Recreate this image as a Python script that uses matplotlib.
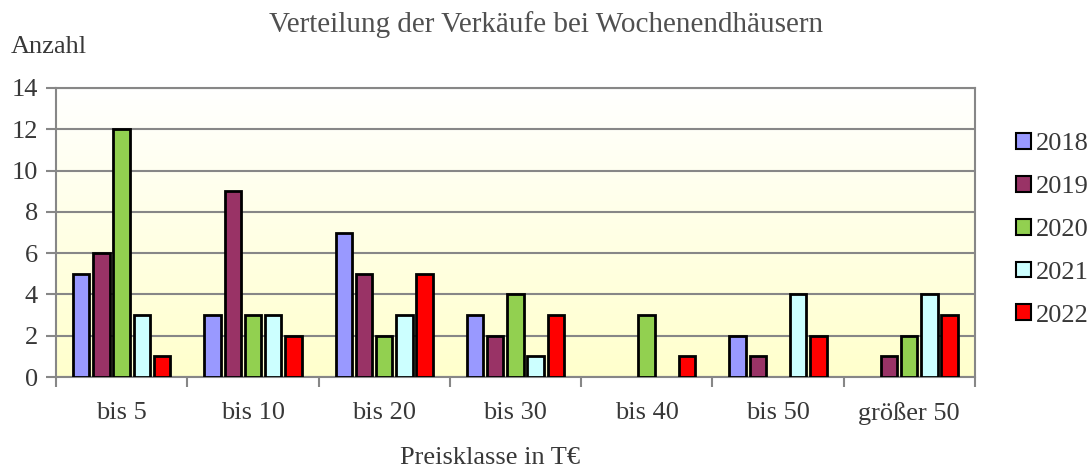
import numpy as np
import matplotlib.pyplot as plt
from matplotlib.patches import Patch

plt.rcParams['font.family'] = ['Liberation Serif', 'DejaVu Serif']

# Verkäufe je Preisklasse und Jahr
kategorien = ['bis 5', 'bis 10', 'bis 20', 'bis 30', 'bis 40', 'bis 50', 'größer 50']
jahre = ['2018', '2019', '2020', '2021', '2022']
v2018 = [5, 3, 7, 3, 0, 2, 0]
v2019 = [6, 9, 5, 2, 0, 1, 1]
v2020 = [12, 3, 2, 4, 3, 0, 2]
v2021 = [3, 3, 3, 1, 0, 4, 4]
v2022 = [1, 2, 5, 3, 1, 2, 3]
farben = ['#9999ff', '#993366', '#92d050', '#ccffff', '#ff0000']

werte = [v2018, v2019, v2020, v2021, v2022]
gitter = '#878787'
schrift = '#383838'

fig = plt.figure(figsize=(10.88, 4.68), dpi=100)
ax = fig.add_axes([0.0515, 0.1944, 0.8445, 0.6176])

# Hintergrund mit Verlauf von Weiß nach Hellgelb
verlauf = np.linspace(0, 1, 256)
bg = np.ones((256, 1, 3))
bg[:, 0, 2] = 1 - 0.2 * verlauf
ax.imshow(bg, extent=(-0.5, len(kategorien) - 0.5, 0, 14), aspect='auto',
          origin='upper', zorder=0)

x = np.arange(len(kategorien))
breite = 0.125
schritt = 0.154
for i, (w, f) in enumerate(zip(werte, farben)):
    pos = x + (i - 2) * schritt
    hoehen = np.array(w, dtype=float)
    mask = hoehen > 0
    ax.bar(pos[mask], hoehen[mask], width=breite, color=f, edgecolor='black',
           linewidth=2, zorder=3)

ax.set_xlim(-0.5, len(kategorien) - 0.5)
ax.set_ylim(0, 14)
ax.set_yticks(range(0, 15, 2))
ax.yaxis.grid(True, color=gitter, linewidth=1.5, zorder=1)
ax.set_axisbelow(True)

ax.set_xticks(x)
ax.set_xticklabels(kategorien)
ax.set_xticks(np.arange(-0.5, len(kategorien)), minor=True)
ax.tick_params(axis='x', which='major', length=0, pad=18)
ax.tick_params(axis='x', which='minor', length=7, width=1.5, color=gitter, direction='out')
ax.tick_params(axis='y', length=7, width=1.5, color=gitter, direction='out', pad=6)
ax.tick_params(labelsize=19, labelcolor=schrift)

for s in ax.spines.values():
    s.set_color(gitter)
    s.set_linewidth(1.5)

fig.text(0.502, 0.947, 'Verteilung der Verkäufe bei Wochenendhäusern',
         ha='center', va='center', fontsize=21, color='#505050')
fig.text(0.01, 0.9, 'Anzahl', ha='left', va='center', fontsize=19, color=schrift)
fig.text(0.45, 0.022, 'Preisklasse in T€', ha='center', va='center',
         fontsize=19, color=schrift)

handles = [Patch(facecolor=f, edgecolor='black', linewidth=1.5) for f in farben]
fig.legend(handles, jahre, loc='center left', bbox_to_anchor=(0.922, 0.509),
           frameon=False, fontsize=19, handlelength=0.55, handleheight=0.55,
           handletextpad=0.2, labelspacing=0.78, borderpad=0, labelcolor=schrift)

fig.savefig('out.png', dpi=100)
